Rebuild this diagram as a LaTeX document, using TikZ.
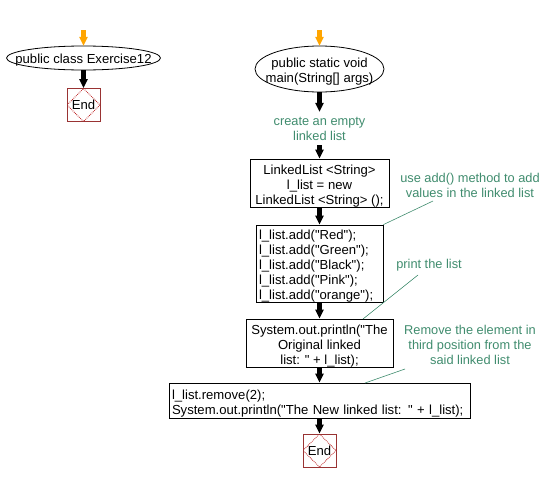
\documentclass[tikz,border=0pt]{standalone}
\usepackage{fontspec}
\setmainfont{Liberation Sans}[Ligatures=TeXOff]
\usetikzlibrary{arrows.meta,shapes.geometric,calc}
\definecolor{notegreen}{RGB}{64,140,110}
\definecolor{endred}{RGB}{153,51,51}
\definecolor{diared}{RGB}{190,40,40}
\definecolor{startorange}{RGB}{255,165,0}
\tikzset{
  every node/.style={font=\fontsize{13.1}{15}\selectfont},
  tlab/.style={inner sep=0pt, yshift=-3pt},
  shapebox/.style={rectangle, inner sep=0pt},
  elline/.style={draw, line width=0.8pt},
  procbox/.style={rectangle, draw, line width=0.8pt, inner sep=0pt},
  endbox/.style={rectangle, draw=endred, line width=0.8pt, minimum width=33pt, minimum height=33pt, inner sep=0pt,
    path picture={\draw[diared, densely dotted, line width=0.8pt] (path picture bounding box.north) -- (path picture bounding box.east) -- (path picture bounding box.south) -- (path picture bounding box.west) -- cycle;}},
  note/.style={text=notegreen, align=center, inner sep=0pt, font=\fontsize{12.8}{15}\selectfont},
  noteline/.style={draw=notegreen, line width=0.6pt},
  flow/.style={line width=5pt, -{Triangle[width=8pt,length=9pt]}},
  startflow/.style={flow, startorange},
}
\begin{document}
\begin{tikzpicture}[x=1pt,y=1pt]
\useasboundingbox (0,0) rectangle (548,-482);
% left column
\coordinate (ls) at (83.5,-30);
\node[shapebox, minimum width=154pt, minimum height=24pt,
  label={[tlab, yshift=1pt]center:{public class Exercise12}}] (lcls) at (83.5,-58) {};
\draw[elline] (lcls.center) ellipse [x radius=77, y radius=12];
\node[endbox] (lend) at (83.5,-105) {End};
\draw[startflow] (ls) -- (lcls.north);
\draw[flow] (lcls.south) -- (lend.north);
% right column
\coordinate (rs) at (319.5,-30);
\node[shapebox, minimum width=129pt, minimum height=46pt,
  label={[tlab, align=center]center:{public static void\\main(String[] args)}}] (main) at (319.5,-69) {};
\draw[elline] (main.center) ellipse [x radius=64.5, y radius=23];
\node[note, minimum height=33pt] (c1) at (319.5,-128.5) {create an empty\\linked list};
\node[procbox, minimum width=139pt, minimum height=48pt,
  label={[tlab, align=center]center:{LinkedList <String>\\l\_list = new\\LinkedList <String> ();}}] (b1) at (319.5,-183) {};
\node[procbox, minimum width=127pt, minimum height=77pt,
  label={[tlab, text width=121pt, align=left]center:{l\_list.add("Red");\\l\_list.add("Green");\\l\_list.add("Black");\\l\_list.add("Pink");\\l\_list.add("orange");}}] (b2) at (319.5,-263.5) {};
\node[procbox, minimum width=147pt, minimum height=48pt,
  label={[tlab, align=center]center:{System.out.println("The\\Original linked\\list: " + l\_list);}}] (b3) at (319.5,-343) {};
\node[procbox, minimum width=301pt, minimum height=35pt,
  label={[tlab, text width=295pt, align=left]center:{l\_list.remove(2);\\System.out.println("The New linked list: " + l\_list);}}] (b4) at (319.5,-400.5) {};
\node[endbox] (rend) at (319.5,-450.5) {End};
\draw[startflow] (rs) -- (main.north);
\draw[flow] (main.south) -- (c1.north);
\draw[flow] (c1.south) -- (b1.north);
\draw[flow] (b1.south) -- (b2.north);
\draw[flow] (b2.south) -- (b3.north);
\draw[flow] (b3.south) -- (b4.north);
\draw[flow] (b4.south) -- (rend.north);
% notes
\node[note] (n1) at (470,-185.5) {use add() method to add\\values in the linked list};
\node[note] (n2) at (429,-265) {print the list};
\node[note] (n3) at (470,-344.5) {Remove the element in\\third position from the\\said linked list};
\coordinate (n1e) at (433,-201);
\coordinate (n2e) at (418,-275);
\coordinate (n3e) at (405,-369);
\coordinate (b3e) at (363,-319);
\coordinate (b4e) at (365,-383);
\draw[noteline] (n1e) -- (b2.north east);
\draw[noteline] (n2e) -- (b3e);
\draw[noteline] (n3e) -- (b4e);
\end{tikzpicture}
\end{document}
